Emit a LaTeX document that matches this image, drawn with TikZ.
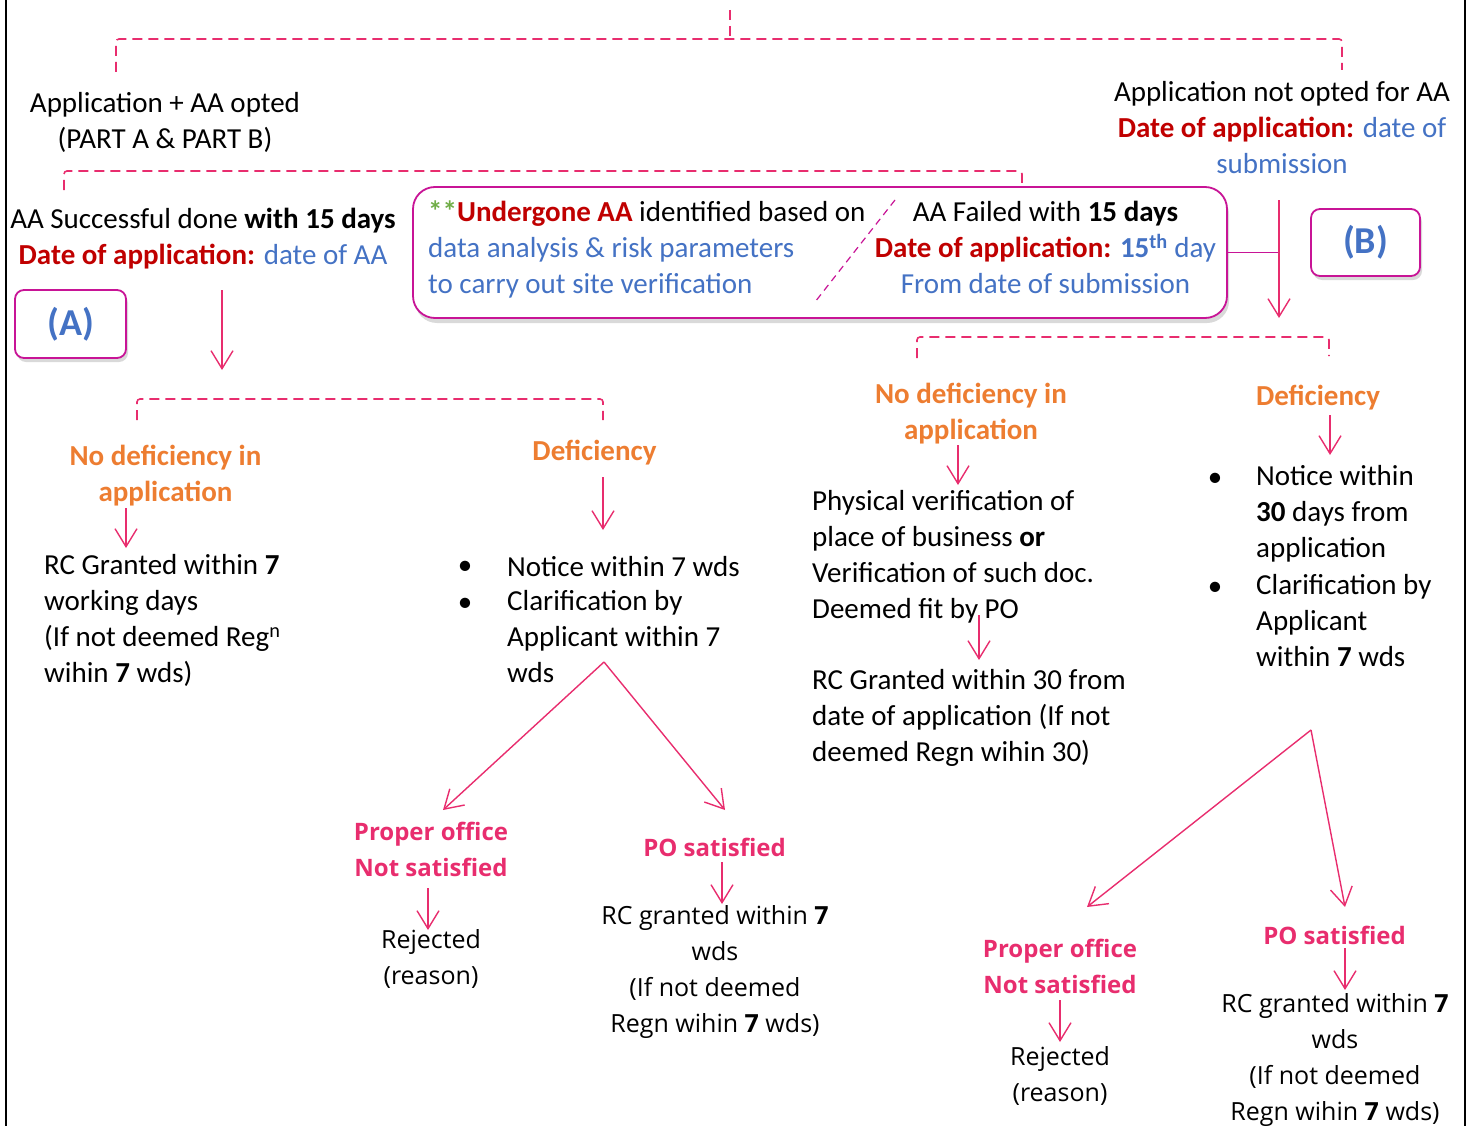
\documentclass[tikz,border=0pt]{standalone}
\usepackage{fontspec}
\setmainfont{Carlito}
\newfontfamily\seg{Open Sans}
\usetikzlibrary{arrows.meta,shadows}

\definecolor{lnk}{RGB}{232,45,110}
\definecolor{boxc}{RGB}{200,20,150}
\definecolor{dred}{RGB}{192,0,0}
\definecolor{lblue}{RGB}{68,114,196}
\definecolor{grn}{RGB}{112,173,71}
\definecolor{orng}{RGB}{237,125,49}

\newcommand{\rd}[1]{\textcolor{dred}{\textbf{#1}}}
\newcommand{\bl}[1]{\textcolor{lblue}{#1}}

\tikzset{
  txt/.style={inner sep=0pt, align=center, font=\fontsize{29}{36}\selectfont,
    yshift=-5pt,
    execute at begin node=\strut, execute at end node=\strut},
  txtl/.style={txt, align=left, anchor=west},
  ortxt/.style={txt, text=orng, font=\fontsize{29}{36}\selectfont\bfseries},
  segtxt/.style={txt, font=\seg\fontsize{25}{36}\selectfont},
  pinkb/.style={txt, text=lnk, font=\seg\fontsize{24}{36}\selectfont\bfseries},
  bul/.style={inner sep=0pt, yshift=-4pt, font=\fontsize{29}{36}\selectfont},
  arr/.style={draw=lnk, line width=1.4pt,
    -{Straight Barb[length=18pt,width=22pt,line width=1.4pt]}},
  dashc/.style={draw=lnk, line width=1.6pt, dash pattern=on 10pt off 6pt,
    rounded corners=3pt},
  tagbox/.style={draw=boxc, line width=1.8pt, rounded corners=9pt, fill=white,
    drop shadow={shadow xshift=2pt, shadow yshift=-4pt, opacity=0.3},
    inner sep=0pt, text=lblue, font=\fontsize{38}{44}\selectfont\bfseries},
}

\begin{document}
\begin{tikzpicture}[x=1pt,y=-1pt]
\useasboundingbox (0,0) rectangle (1471,1126);

% frame lines
\draw[line width=2pt] (6,0) -- (6,1126);
\draw[line width=2pt] (1465,0) -- (1465,1126);

% ---------- top split ----------
\coordinate (t0) at (730,10);
\coordinate (t1) at (730,39);
\coordinate (tl) at (116,72);
\coordinate (tr) at (1342,70);
\draw[dashc] (t0) -- (t1);
\draw[dashc] (tl) -- (116,39) -- (1342,39) -- (tr);

\node[txt] (optA) at (165,121) {Application + AA opted\\(PART A \& PART B)};
\node[txt] (noAA) at (1282,128) {Application not opted for AA\\
  \rd{Date of application:} \bl{date of}\\ \bl{submission}};

% ---------- second split ----------
\coordinate (s1) at (64,190);
\coordinate (s2) at (1022,185);
\draw[dashc] (s1) -- (64,171) -- (1022,171) -- (s2);

\node[txt] (succ) at (203,236.5) {AA Successful done \textbf{with 15 days}\\
  \rd{Date of application:} \bl{date of AA}};

\node[tagbox, minimum width=111pt, minimum height=68pt] (tagA) at (70.5,324) {(A)};

\coordinate (a1s) at (222,290);
\coordinate (a1e) at (222,370);
\draw[arr] (a1s) -- (a1e);

% central box
\node[draw=boxc, line width=1.8pt, rounded corners=22pt, fill=white,
  drop shadow={shadow xshift=2pt, shadow yshift=-5pt, opacity=0.3},
  minimum width=814pt, minimum height=131pt, inner sep=0pt] (mid) at (820,252.5) {};
\node[txtl] (undergone) at (428,248) {\textcolor{grn}{\textbf{**}}\rd{Undergone AA} identified based on\\
  \bl{data analysis \& risk parameters}\\ \bl{to carry out site verification}};
\coordinate (dg1) at (895,200);
\coordinate (dg2) at (815,302);
\draw[draw=boxc, line width=1.2pt, dash pattern=on 7pt off 5pt] (dg1) -- (dg2);
\node[txt] (failed) at (1045.5,248) {AA Failed with \textbf{15 days}\\
  \rd{Date of application:} \bl{\textbf{15\textsuperscript{th}} day}\\
  \bl{From date of submission}};

% branch B
\coordinate (bv1) at (1279,200);
\coordinate (bv2) at (1279,318);
\coordinate (bj) at (1279,252.5);
\draw[draw=boxc, line width=1.2pt] (mid.east) -- (bj);
\draw[arr] (bv1) -- (bv2);

\node[tagbox, minimum width=109pt, minimum height=67pt] (tagB) at (1365.5,242.5) {(B)};

% ---------- right side ----------
\coordinate (r1) at (917,358);
\coordinate (r2) at (1329,356);
\draw[dashc] (r1) -- (917,337) -- (1329,337) -- (r2);

\node[ortxt] (nodefR) at (971,412) {No deficiency in\\application};
\node[ortxt] (defR) at (1318,393) {Deficiency};

\coordinate (ra1) at (958,445); \coordinate (ra2) at (958,485);
\draw[arr] (ra1) -- (ra2);
\coordinate (rb1) at (1330,415); \coordinate (rb2) at (1330,455);
\draw[arr] (rb1) -- (rb2);

\node[txtl] (physR) at (812,555) {Physical verification of\\place of business \textbf{or}\\
  Verification of such doc.\\Deemed fit by PO};
\coordinate (rc1) at (979,615); \coordinate (rc2) at (979,660);
\draw[arr] (rc1) -- (rc2);
\node[txtl] (rcR) at (812,716) {RC Granted within 30 from\\date of application (If not\\
  deemed Regn wihin 30)};

\node[bul] (bR1) at (1215,476) {•};
\node[bul] (bR2) at (1215,585) {•};
\node[txtl] (noticeR) at (1256,512) {Notice within\\\textbf{30} days from\\application};
\node[txtl] (clarR) at (1256,621) {Clarification by\\Applicant\\within \textbf{7} wds};

\coordinate (apR) at (1311,730);
\coordinate (apR1) at (1087,907);
\coordinate (apR2) at (1345,907);
\draw[arr] (apR) -- (apR1);
\draw[arr] (apR) -- (apR2);

\node[pinkb] (poR) at (1060,966.5) {Proper office\\Not satisfied};
\coordinate (rd1) at (1060,1000); \coordinate (rd2) at (1060,1042);
\draw[arr] (rd1) -- (rd2);
\node[segtxt] (rejR) at (1060,1074) {Rejected\\(reason)};

\node[pinkb] (posR) at (1334.5,932) {PO satisfied};
\coordinate (re1) at (1345,948); \coordinate (re2) at (1345,990);
\draw[arr] (re1) -- (re2);
\node[segtxt] (rcgR) at (1335,1057.5) {RC granted within \textbf{7}\\wds\\(If not deemed\\
  Regn wihin \textbf{7} wds)};

% ---------- left side ----------
\coordinate (l1) at (137,420);
\coordinate (l2) at (603,420);
\draw[dashc] (l1) -- (137,399) -- (603,399) -- (l2);

\node[ortxt] (nodefL) at (165.5,473.5) {No deficiency in\\application};
\node[ortxt] (defL) at (594.5,448) {Deficiency};

\coordinate (la1) at (126,508); \coordinate (la2) at (126,548);
\draw[arr] (la1) -- (la2);
\coordinate (lb1) at (603,477); \coordinate (lb2) at (603,530);
\draw[arr] (lb1) -- (lb2);

\node[txtl] (rcL) at (44,619) {RC Granted within \textbf{7}\\working days\\
  (If not deemed Reg\textsuperscript{n}\\wihin \textbf{7} wds)};

\node[bul] (bL1) at (465,564) {•};
\node[bul] (bL2) at (465,601) {•};
\node[txtl] (noticeL) at (507,564) {Notice within 7 wds};
\node[txtl] (clarL) at (507,637) {Clarification by\\Applicant within 7\\wds};

\coordinate (apL) at (604,662);
\coordinate (apL1) at (443,810);
\coordinate (apL2) at (725,810);
\draw[arr] (apL) -- (apL1);
\draw[arr] (apL) -- (apL2);

\node[pinkb] (poL) at (431,850) {Proper office\\Not satisfied};
\coordinate (ld1) at (428,888); \coordinate (ld2) at (428,930);
\draw[arr] (ld1) -- (ld2);
\node[segtxt] (rejL) at (431,957.5) {Rejected\\(reason)};

\node[pinkb] (posL) at (714.5,844) {PO satisfied};
\coordinate (le1) at (722,862); \coordinate (le2) at (722,904);
\draw[arr] (le1) -- (le2);
\node[segtxt] (rcgL) at (715,969.5) {RC granted within \textbf{7}\\wds\\(If not deemed\\
  Regn wihin \textbf{7} wds)};

\end{tikzpicture}
\end{document}
